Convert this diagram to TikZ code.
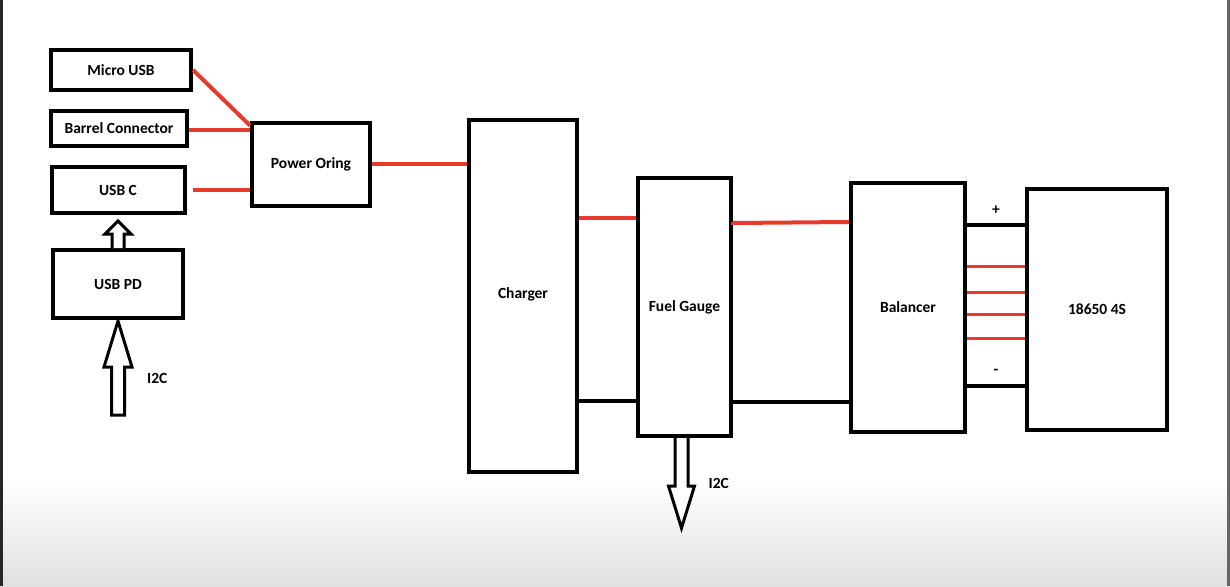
\documentclass[tikz,border=0pt]{standalone}
\usepackage{fontspec}
\setmainfont{Carlito}
\usepackage{tikz}
\usetikzlibrary{positioning,calc}

\definecolor{wirered}{RGB}{232,58,44}

\begin{document}
\begin{tikzpicture}[
    x=1pt, y=-1pt,
    box/.style={draw, line width=4pt, inner sep=0pt, align=center, font=\fontsize{15.5}{18}\selectfont\bfseries},
    redwire/.style={draw=wirered, line width=4pt},
    wire/.style={draw, line width=4pt},
    hollow/.style={draw, line width=3pt, fill=white, line join=miter},
    lbl/.style={inner sep=0pt, font=\fontsize{15.5}{18}\selectfont\bfseries}
]
\useasboundingbox (0,0) rectangle (1230,586);
% screen frame
\shade[top color=white, bottom color=black!12] (0,480) rectangle (1230,586);
\fill[black!85] (0,0) rectangle (3,586);
\fill[black!60] (1227,0) rectangle (1230,586);

% Inputs down the left side
\node[box, minimum width=140pt, minimum height=40pt] (micro) at (121,70) {Micro USB};
\node[box, minimum width=136pt, minimum height=35pt] (barrel) at (119,128) {Barrel Connector};
\node[box, minimum width=133pt, minimum height=46pt] (usbc) at (118,190) {USB C};
\node[box, minimum width=130pt, minimum height=68pt] (usbpd) at (118,284) {USB PD};

% Main power chain
\node[box, minimum width=118pt, minimum height=83pt] (oring) at (311,164) {Power Oring};
\node[box, minimum width=108pt, minimum height=352pt] (charger) at (523,296) {\raisebox{5pt}{Charger}};
\node[box, minimum width=93pt, minimum height=258pt] (fuel) at (684.5,307) {Fuel Gauge};
\node[box, minimum width=114pt, minimum height=249pt] (bal) at (908,307.5) {Balancer};
\node[box, minimum width=140pt, minimum height=241pt] (cell) at (1097,309.5) {18650 4S};

% Inputs into power oring
\draw[redwire] (micro.east) -- ([yshift=-5pt]oring.north west);
\draw[redwire] ([yshift=-2pt]barrel.east) coordinate (b1) -- (b1 -| oring.west);
\draw[redwire] ([xshift=6pt]usbc.east) coordinate (u1) -- (u1 -| oring.west);

% Chain
\draw[redwire] (oring.east) -- (oring.east -| charger.west);
\draw[redwire] ([yshift=-100pt]charger.north east) coordinate (c1) -- (c1 -| fuel.west);
\draw[wire] ([yshift=37pt]fuel.south west) coordinate (c2) -- (c2 -| charger.east);
\draw[redwire] ([yshift=-46pt]fuel.north east) coordinate (f1) -- ++(0,1) -- (f1 -| bal.west);
\draw[wire] ([yshift=36pt]fuel.south east) coordinate (f2) -- (f2 -| bal.west);

% Balancer to pack
\draw[wire] ([yshift=-38pt]cell.north west) coordinate (p1) -- (p1 -| bal.east);
\draw[wire] ([yshift=-199pt]cell.north west) coordinate (p2) -- (p2 -| bal.east);
\foreach \d in {79,105,127,151}
  \draw[redwire, line width=3pt] ([yshift=-\d pt]cell.north west) coordinate (pt) -- (pt -| bal.east);
\node[lbl] (plus) at ($(p1)!0.5!(p1 -| bal.east)+(0,-15)$) {+};
\node[lbl] (minus) at ($(p2)!0.5!(p2 -| bal.east)+(0,-14)$) {-};

% USB PD feeds USB C
\draw[hollow] ($(usbpd.north)+(-6,0)$) -- ($(usbpd.north)+(-6,-14)$) -- ($(usbpd.north)+(-13,-14)$)
  -- ($(usbc.south)+(0,6)$) -- ($(usbpd.north)+(13,-14)$) -- ($(usbpd.north)+(6,-14)$)
  -- ($(usbpd.north)+(6,0)$);

% I2C into USB PD
\coordinate (pdin) at ($(usbpd.south)+(0,95)$);
\draw[hollow] ($(pdin)+(-6.5,0)$) -- ($(usbpd.south)+(-6.5,47)$) -- ($(usbpd.south)+(-14,47)$)
  -- ($(usbpd.south)+(0,1)$) -- ($(usbpd.south)+(14,47)$) -- ($(usbpd.south)+(6.5,47)$)
  -- ($(pdin)+(6.5,0)$) -- cycle;
\node[lbl, anchor=west] (i2cin) at ($(usbpd.south)+(29,58)$) {I2C};

% I2C out of fuel gauge
\coordinate (fgout) at ($(fuel.south)+(-3,90)$);
\draw[hollow] ($(fuel.south)+(-9.5,0)$) -- ($(fuel.south)+(-9.5,48)$) -- ($(fuel.south)+(-16,48)$)
  -- (fgout) -- ($(fuel.south)+(10,48)$) -- ($(fuel.south)+(3.5,48)$) -- ($(fuel.south)+(3.5,0)$);
\node[lbl, anchor=west] (i2cout) at ($(fuel.south)+(24,45)$) {I2C};
\end{tikzpicture}
\end{document}
